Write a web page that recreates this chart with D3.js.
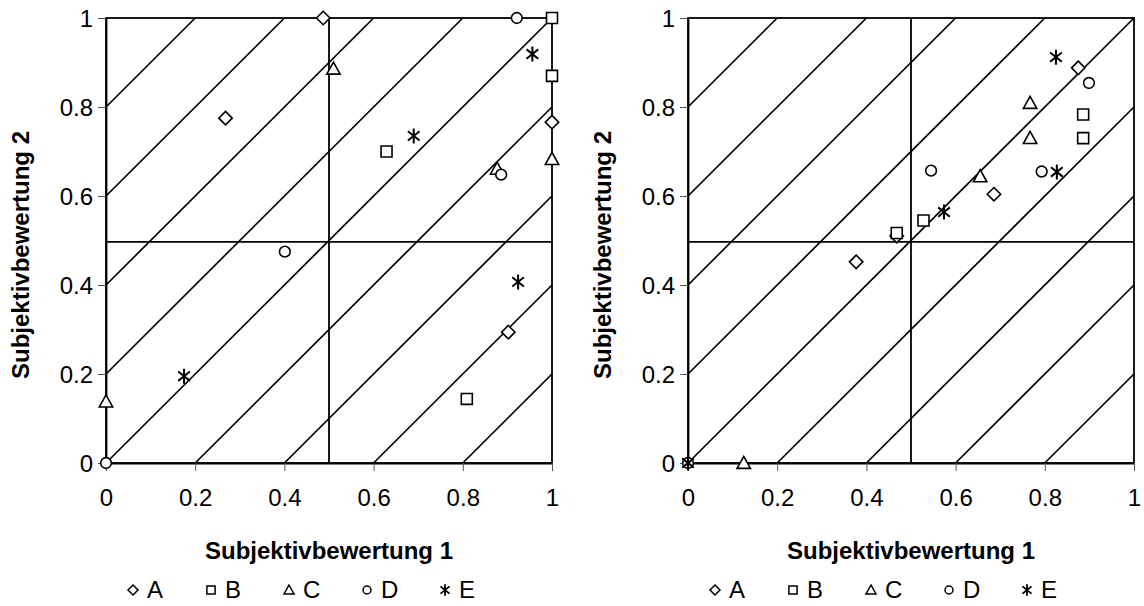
<!DOCTYPE html>
<html>
<head>
<meta charset="utf-8">
<script src="https://cdn.jsdelivr.net/npm/d3@7"></script>
<style>
  body { margin: 0; background: #fff; }
  svg { display: block; }
  text { font-family: "Liberation Sans", Arial, sans-serif; fill: #000; }
</style>
</head>
<body>
<svg id="chart" width="1144" height="606"></svg>
<script>
// ---- data ----
const seriesNames = ["A", "B", "C", "D", "E"];
const tickValues = [0, 0.2, 0.4, 0.6, 0.8, 1];
const tickLabels = ["0", "0.2", "0.4", "0.6", "0.8", "1"];
const diagOffsets = [-0.8, -0.6, -0.4, -0.2, 0, 0.2, 0.4, 0.6, 0.8];
const xTitle = "Subjektivbewertung 1";
const yTitle = "Subjektivbewertung 2";

const leftA = [[0.487, 1.0], [0.268, 0.775], [1.0, 0.766], [0.902, 0.294]];
const leftB = [[1.0, 1.0], [1.0, 0.87], [0.629, 0.70], [0.809, 0.144]];
const leftC = [[0.51, 0.886], [0.877, 0.661], [1.0, 0.683], [0, 0.138]];
const leftD = [[0.921, 1.0], [0.886, 0.648], [0.401, 0.475], [0, 0]];
const leftE = [[0.956, 0.919], [0.69, 0.735], [0.924, 0.407], [0.175, 0.195]];

const rightA = [[0.377, 0.452], [0.468, 0.51], [0.686, 0.604], [0.875, 0.888]];
const rightB = [[0.468, 0.517], [0.528, 0.545], [0.886, 0.783], [0.886, 0.73]];
const rightC = [[0.125, 0], [0.655, 0.644], [0.767, 0.809], [0.767, 0.73]];
const rightD = [[0, 0], [0.545, 0.657], [0.793, 0.655], [0.899, 0.854]];
const rightE = [[0, 0], [0.574, 0.564], [0.825, 0.912], [0.827, 0.654]];

// ---- markers ----
function markerPath(type, s) {
  const p = d3.path();
  if (type === "A") { // diamond
    p.moveTo(0, -s); p.lineTo(s, 0); p.lineTo(0, s); p.lineTo(-s, 0); p.closePath();
  } else if (type === "B") { // square
    const h = s * 0.82;
    p.rect(-h, -h, 2 * h, 2 * h);
  } else if (type === "C") { // triangle
    p.moveTo(0, -s); p.lineTo(s, s * 0.8); p.lineTo(-s, s * 0.8); p.closePath();
  } else if (type === "D") { // circle
    const r = s * 0.8;
    p.moveTo(r, 0); p.arc(0, 0, r, 0, 2 * Math.PI);
  } else { // asterisk
    p.moveTo(0, -s); p.lineTo(0, s);
    const dx = s * 0.78, dy = s * 0.62;
    p.moveTo(-dx, -dy); p.lineTo(dx, dy);
    p.moveTo(-dx, dy); p.lineTo(dx, -dy);
  }
  return p.toString();
}

const svg = d3.select("#chart");
const FS = "24px";

function drawPanel(x0, x1, data, yTitleX, legendStart) {
  const x = d3.scaleLinear().domain([0, 1]).range([x0, x1]);
  const y = d3.scaleLinear().domain([0, 1]).range([463, 18]);
  const g = svg.append("g");

  // diagonal lines y = x + c
  diagOffsets.forEach(c => {
    const xa = Math.max(0, -c), ya = xa + c;
    const xb = Math.min(1, 1 - c), yb = xb + c;
    g.append("line")
      .attr("x1", x(xa)).attr("y1", y(ya))
      .attr("x2", x(xb)).attr("y2", y(yb))
      .attr("stroke", "#000").attr("stroke-width", 1.7);
  });
  // mid lines
  g.append("line").attr("x1", x(0.5)).attr("x2", x(0.5)).attr("y1", y(0)).attr("y2", y(1))
    .attr("stroke", "#000").attr("stroke-width", 1.8);
  g.append("line").attr("x1", x(0)).attr("x2", x(1)).attr("y1", y(0.497)).attr("y2", y(0.497))
    .attr("stroke", "#000").attr("stroke-width", 1.8);
  // frame
  g.append("rect").attr("x", x(0)).attr("y", y(1))
    .attr("width", x(1) - x(0)).attr("height", y(0) - y(1))
    .attr("fill", "none").attr("stroke", "#000").attr("stroke-width", 1.8);

  // axes
  const yAxis = d3.axisLeft(y).tickValues(tickValues)
    .tickFormat((d, i) => tickLabels[i]).tickSize(8).tickPadding(5).tickSizeOuter(0);
  const xAxis = d3.axisBottom(x).tickValues(tickValues)
    .tickFormat((d, i) => tickLabels[i]).tickSize(8).tickPadding(18).tickSizeOuter(0);
  const ya = g.append("g").attr("transform", `translate(${x0},0)`).call(yAxis);
  const xa = g.append("g").attr("transform", `translate(0,463)`).call(xAxis);
  [ya, xa].forEach(a => {
    a.select(".domain").attr("stroke", "#000").attr("stroke-width", 1.8);
    a.selectAll(".tick line").attr("stroke", "#555").attr("stroke-width", 1);
    a.selectAll(".tick text").style("font-family", '"Liberation Sans", Arial, sans-serif')
      .style("font-size", FS).attr("fill", "#000");
  });
  ya.selectAll(".tick text").attr("dy", "0.35em");

  // titles
  g.append("text").attr("x", (x0 + x1) / 2).attr("y", 559)
    .attr("text-anchor", "middle").style("font-size", FS).style("font-weight", "bold")
    .text(xTitle);
  g.append("text").attr("transform", `translate(${yTitleX},255) rotate(-90)`)
    .attr("text-anchor", "middle").style("font-size", FS).style("font-weight", "bold")
    .text(yTitle);

  // points
  data.forEach((pts, i) => {
    const type = seriesNames[i];
    g.selectAll(null).data(pts).enter().append("path")
      .attr("d", markerPath(type, type === "E" ? 7.5 : 6.7))
      .attr("transform", d => `translate(${x(d[0])},${y(d[1])})`)
      .attr("fill", type === "E" ? "none" : "#fff")
      .attr("stroke", "#000").attr("stroke-width", type === "E" ? 2 : 1.6);
  });

  // legend
  const legendSpacing = 78;
  seriesNames.forEach((name, i) => {
    const lx = legendStart + i * legendSpacing;
    g.append("path").attr("d", markerPath(name, name === "E" ? 5.8 : 5))
      .attr("transform", `translate(${lx},590)`)
      .attr("fill", "#fff").attr("stroke", "#000").attr("stroke-width", name === "E" ? 1.8 : 1.5);
    g.append("text").attr("x", lx + 14).attr("y", 598)
      .style("font-size", FS).text(name);
  });
}

drawPanel(106, 552, [leftA, leftB, leftC, leftD, leftE], 29, 133);
drawPanel(688, 1134, [rightA, rightB, rightC, rightD, rightE], 611, 715);
</script>
</body>
</html>
